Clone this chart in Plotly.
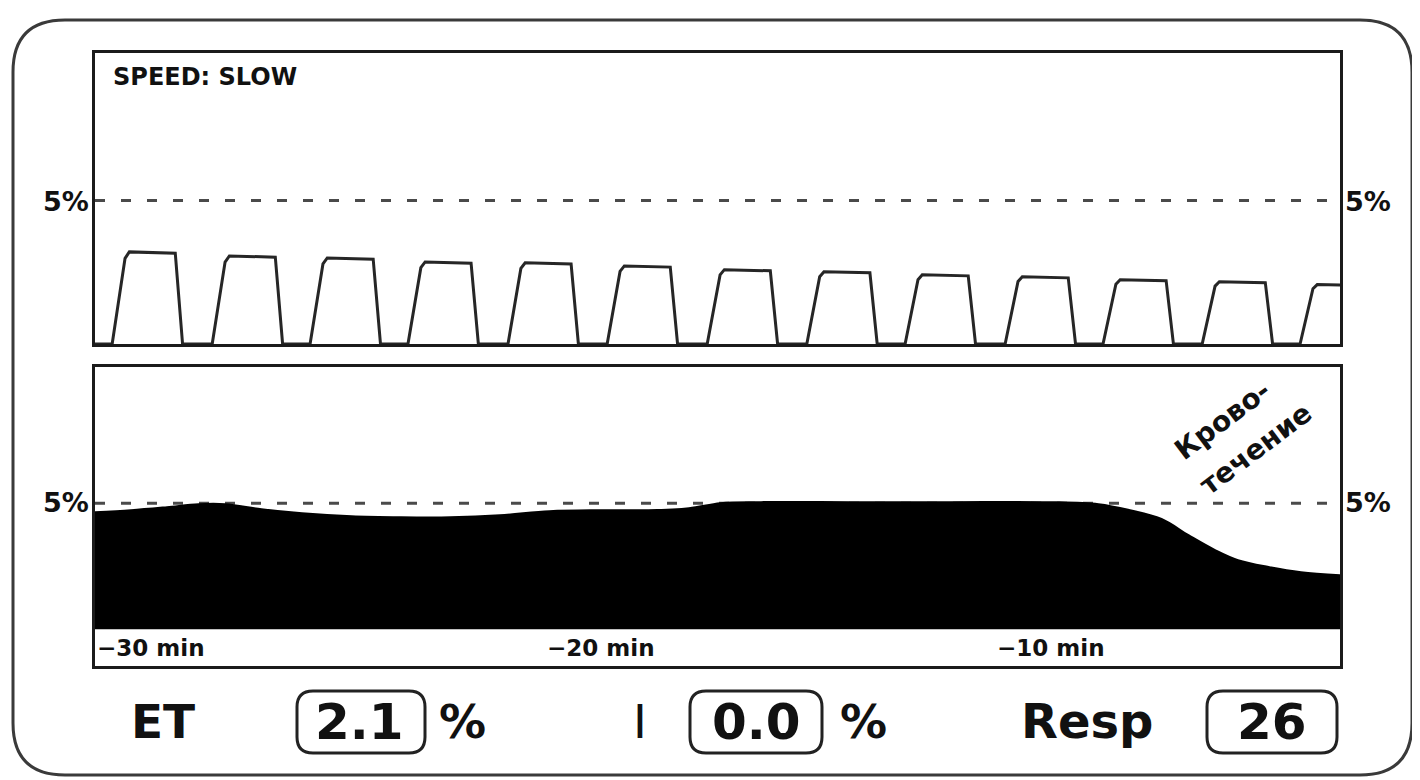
import plotly.graph_objects as go

# ---------------- data ----------------
# upper panel: single breaths over the last ~29 s (time in s, gas in %)
breath_onset_s = [0.40, 2.73, 5.01, 7.29, 9.62, 11.93, 14.26, 16.58, 18.87, 21.20, 23.48, 25.79, 28.07]
breath_peak_pct = [3.21, 3.07, 3.00, 2.86, 2.83, 2.72, 2.59, 2.52, 2.41, 2.34, 2.24, 2.17, 2.07]
rise_s, plateau_s, fall_s = 0.40, 1.07, 0.17

# lower panel: 30-minute trend of the end-tidal value (time in min, %)
trend_min = [-30.0, -29.2, -28.4, -27.7, -27.1, -26.3, -25.4, -24.3, -23.2, -22.1, -21.0,
             -19.9, -18.8, -17.7, -16.8, -16.1, -15.2, -13.2, -11.0, -8.8, -7.7, -7.0,
             -6.3, -5.7, -5.1, -4.6, -3.9, -3.2, -2.3]
trend_et = [4.64, 4.72, 4.84, 4.96, 4.96, 4.76, 4.60, 4.48, 4.44, 4.44, 4.52,
            4.68, 4.72, 4.72, 4.80, 5.00, 5.04, 5.04, 5.04, 5.04, 4.96, 4.72,
            4.37, 3.73, 3.13, 2.74, 2.46, 2.26, 2.14]

trend_tick_min = [-30, -20, -10]
trend_tick_text = ["\u221230 min", "\u221220 min", "\u221210 min"]

ref_level_pct = 5
ref_label = "5%"
speed_text = "SPEED: SLOW"
event_lines = ["\u041a\u0440\u043e\u0432\u043e-", "\u0442\u0435\u0447\u0435\u043d\u0438\u0435"]

readout_labels = ["ET", "I", "Resp"]
readout_values = ["2.1", "0.0", "26"]
readout_units = ["%", "%", ""]

# ---------------- helpers ----------------
# the page body has an 8px margin, so the figure is drawn at (8, 8) in the window
OFF = 8
W, H = 1420 - OFF, 780 - OFF


def px(x):
    return (x - OFF) / W


def py(y):
    return 1 - (y - OFF) / H


def rounded_rect(x0, y0, x1, y1, r):
    pts = [
        f"M {px(x0 + r)} {py(y0)}",
        f"L {px(x1 - r)} {py(y0)}",
        f"Q {px(x1)} {py(y0)} {px(x1)} {py(y0 + r)}",
        f"L {px(x1)} {py(y1 - r)}",
        f"Q {px(x1)} {py(y1)} {px(x1 - r)} {py(y1)}",
        f"L {px(x0 + r)} {py(y1)}",
        f"Q {px(x0)} {py(y1)} {px(x0)} {py(y1 - r)}",
        f"L {px(x0)} {py(y0 + r)}",
        f"Q {px(x0)} {py(y0)} {px(x0 + r)} {py(y0)}",
        "Z",
    ]
    return " ".join(pts)


INK = "#1b1b1b"
FONT = "DejaVu Sans"

# waveform polyline built from the breath arrays
wx, wy = [0.0], [0.0]
for t0, pk in zip(breath_onset_s, breath_peak_pct):
    wx += [t0, t0 + rise_s * 0.75, t0 + rise_s, t0 + rise_s + plateau_s, t0 + rise_s + plateau_s + fall_s]
    wy += [0.0, pk * 0.93, pk, pk * 0.985, 0.0]

fig = go.Figure()
fig.add_trace(go.Scatter(x=wx, y=wy, mode="lines", line=dict(color="#262626", width=3),
                         xaxis="x", yaxis="y", showlegend=False, hoverinfo="skip"))
fig.add_trace(go.Scatter(x=trend_min, y=trend_et, mode="lines", fill="tozeroy",
                         fillcolor="#000000", line=dict(color="#000000", width=2, shape="spline"),
                         xaxis="x2", yaxis="y2", showlegend=False, hoverinfo="skip"))

ax_common = dict(showline=True, mirror=True, linewidth=3, linecolor=INK, showgrid=False,
                 zeroline=False, showticklabels=False, ticks="", fixedrange=True)

x_dom = [px(95), px(1340)]
fig.update_layout(
    width=W, height=H, autosize=False,
    margin=dict(l=0, r=0, t=0, b=0),
    paper_bgcolor="white", plot_bgcolor="white",
    xaxis=dict(domain=x_dom, range=[0, 29.0], anchor="y", **ax_common),
    yaxis=dict(domain=[py(344), py(53)], range=[0, 10.14], anchor="x", **ax_common),
    xaxis2=dict(domain=x_dom, range=[-30, -30 + 1245 / 45], anchor="y2", **ax_common),
    yaxis2=dict(domain=[py(666), py(367)], range=[-1.46, 10.40], anchor="x2", **ax_common),
)

shapes = []
# outer rounded frame of the monitor screen
shapes.append(dict(type="path", xref="paper", yref="paper", path=rounded_rect(13, 20, 1412, 775, 52),
                   line=dict(color="#3a3a3a", width=3)))
# 5 % reference lines
shapes.append(dict(type="line", xref="x", yref="y", x0=0, x1=29.0, y0=ref_level_pct, y1=ref_level_pct,
                   line=dict(color="#4a4a4a", width=3, dash="10px,16px"), layer="below"))
shapes.append(dict(type="line", xref="x2", yref="y2", x0=-30, x1=-30 + 1245 / 45, y0=ref_level_pct,
                   y1=ref_level_pct, line=dict(color="#4a4a4a", width=3, dash="10px,16px"), layer="below"))
# value boxes
for (bx0, bx1) in [(297, 425), (690, 822), (1207, 1337)]:
    shapes.append(dict(type="path", xref="paper", yref="paper", path=rounded_rect(bx0, 691, bx1, 753, 16),
                       line=dict(color="#222222", width=3)))

annotations = []


def txt(text, x, y, size, anchor="center", bold=True, angle=0, color="#111111"):
    annotations.append(dict(text=text, xref="paper", yref="paper", x=px(x), y=py(y), xanchor=anchor,
                            yanchor="middle", showarrow=False, textangle=angle,
                            font=dict(family=FONT, size=size, color=color,
                                      weight="bold" if bold else "normal")))


txt(speed_text, 111, 77, 24, anchor="left")
# 5 % labels, both sides of both panels
for yy in (201, 503):
    txt(ref_label, 91, yy, 27, anchor="right")
    txt(ref_label, 1343, yy, 27, anchor="left")

# trend time labels (placed on the lower panel's own axes)
for tv, tt in zip(trend_tick_min, trend_tick_text):
    annotations.append(dict(text=tt, xref="x2", yref="y2", x=tv, y=-0.75, xanchor="left", yanchor="middle",
                            showarrow=False, font=dict(family=FONT, size=23, color="#111111", weight="bold")))

# event annotation
txt(event_lines[0], 1222, 420, 28, angle=-37)
txt(event_lines[1], 1255, 449, 28, angle=-37)

# readouts
txt(readout_labels[0], 163, 721, 47)
txt(readout_values[0], 359, 722, 50)
txt(readout_units[0], 462, 721, 47)
txt(readout_labels[1], 640, 721, 47, bold=False)
txt(readout_values[1], 756, 722, 50)
txt(readout_units[1], 863, 721, 47)
txt(readout_labels[2], 1087, 721, 48)
txt(readout_values[2], 1272, 722, 50)

fig.update_layout(shapes=shapes, annotations=annotations)
fig.write_html("out.html")
